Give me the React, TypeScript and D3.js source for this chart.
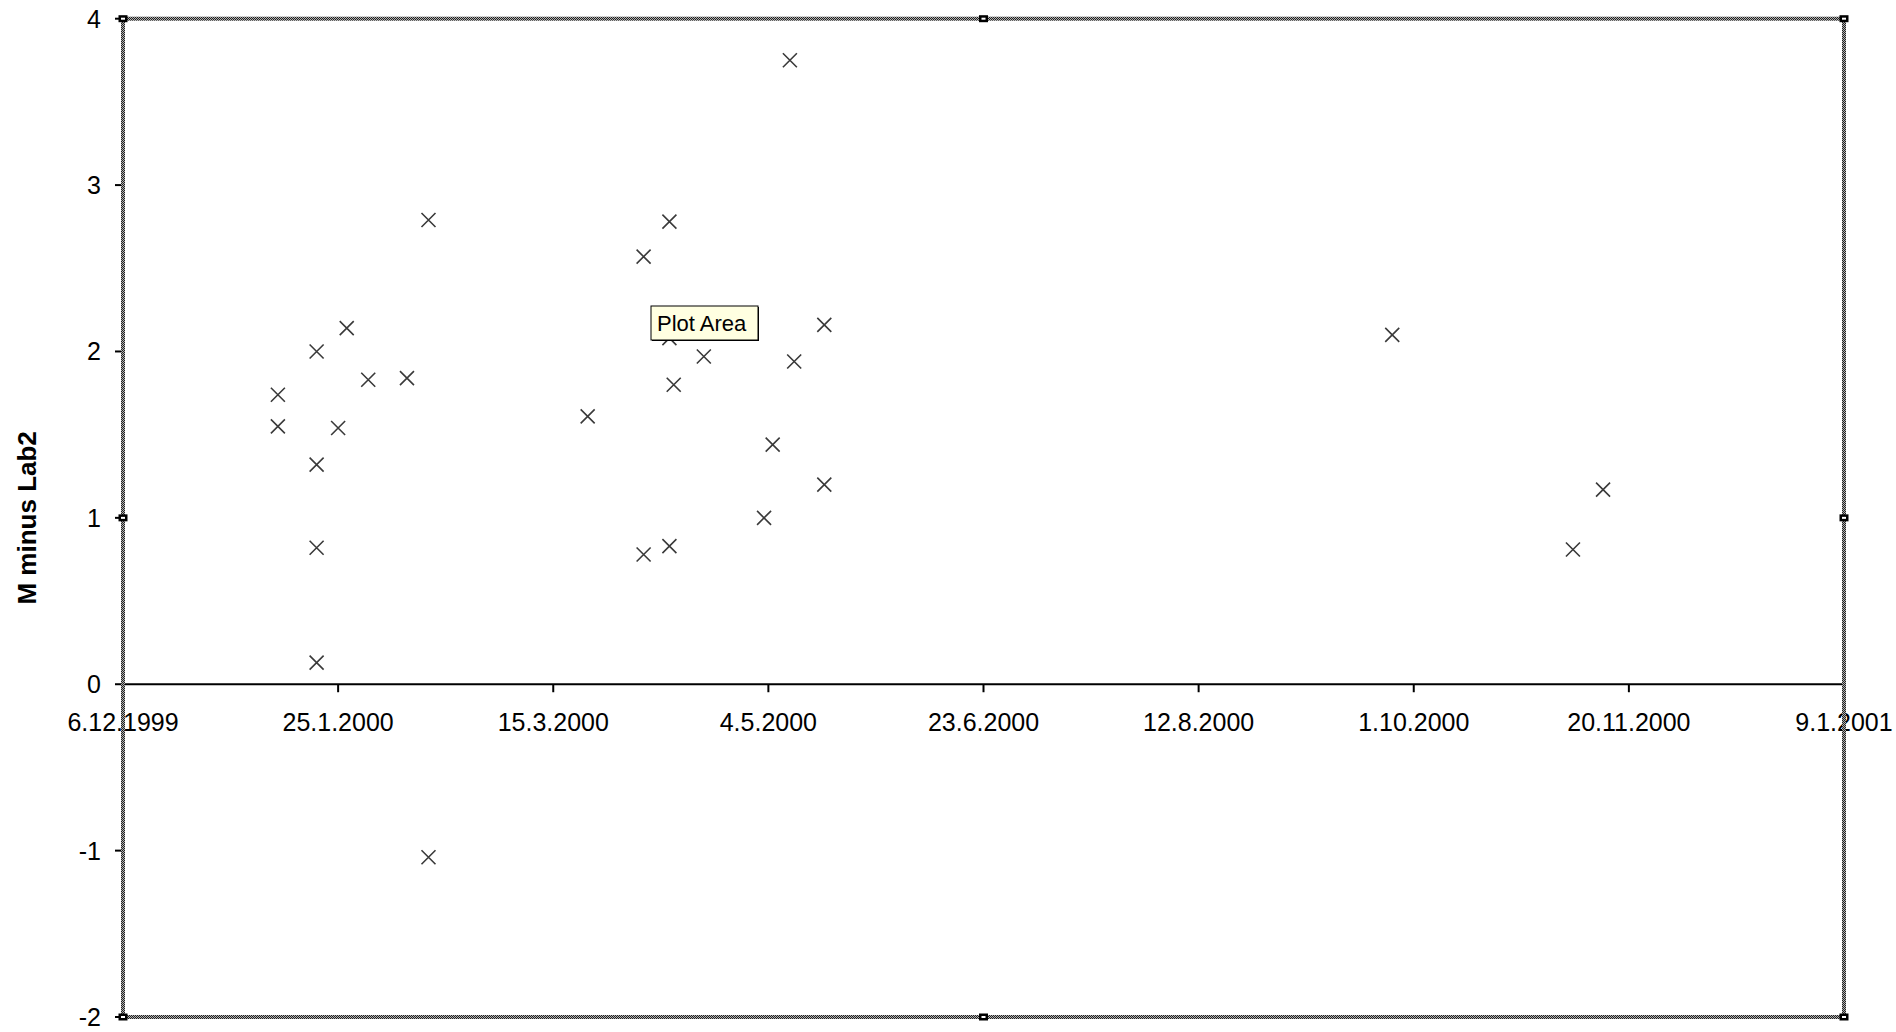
import React from "react";
import * as d3 from "d3";

const pointDates = [
  "2000-01-11", "2000-01-11", "2000-01-20", "2000-01-20", "2000-01-20", "2000-01-20",
  "2000-01-25", "2000-01-27", "2000-02-01", "2000-02-10", "2000-02-15", "2000-02-15",
  "2000-03-23", "2000-04-05", "2000-04-05", "2000-04-11", "2000-04-11", "2000-04-11",
  "2000-04-12", "2000-04-19", "2000-05-03", "2000-05-05", "2000-05-09", "2000-05-10",
  "2000-05-17", "2000-05-17", "2000-09-26", "2000-11-07", "2000-11-14",
];
const pointValues = [
  1.74, 1.55, 2.0, 1.32, 0.82, 0.13,
  1.54, 2.14, 1.83, 1.84, 2.79, -1.04,
  1.61, 2.57, 0.78, 2.78, 2.08, 0.83,
  1.8, 1.97, 1.0, 1.44, 3.75, 1.94,
  2.16, 1.2, 2.1, 0.81, 1.17,
];
const xTickLabels = [
  "6.12.1999", "25.1.2000", "15.3.2000", "4.5.2000", "23.6.2000",
  "12.8.2000", "1.10.2000", "20.11.2000", "9.1.2001",
];
const yTicks = [-2, -1, 0, 1, 2, 3, 4];
const yAxisTitle = "M minus Lab2";
const tooltipText = "Plot Area";

const W = 1896;
const H = 1032;
const plot = { left: 123, right: 1844, top: 18.7, bottom: 1017 };
const FONT = "Arial, 'Liberation Sans', sans-serif";

function parseDmy(s: string): Date {
  const [d, m, y] = s.split(".").map(Number);
  return new Date(Date.UTC(y, m - 1, d));
}
function parseIso(s: string): Date {
  const [y, m, d] = s.split("-").map(Number);
  return new Date(Date.UTC(y, m - 1, d));
}

export default function App() {
  const tickDates = xTickLabels.map(parseDmy);
  const x = d3
    .scaleUtc()
    .domain([tickDates[0], tickDates[tickDates.length - 1]])
    .range([plot.left, plot.right]);
  const y = d3.scaleLinear().domain([-2, 4]).range([plot.bottom, plot.top]);
  const y0 = y(0);
  const points = pointDates.map((d, i) => ({ x: x(parseIso(d)), y: y(pointValues[i]) }));
  const midX = (plot.left + plot.right) / 2;
  const midY = (plot.top + plot.bottom) / 2;
  const handles = [
    [plot.left, plot.top], [midX, plot.top], [plot.right, plot.top],
    [plot.left, midY], [plot.right, midY],
    [plot.left, plot.bottom], [midX, plot.bottom], [plot.right, plot.bottom],
  ];
  const s = 7;
  const tipX = 651, tipY = 306, tipW = 107, tipH = 34;

  return (
    <svg
      width={W}
      height={H}
      style={{ position: "absolute", left: 0, top: 0, background: "#fff" }}
      fontFamily={FONT}
    >
      <defs>
        <pattern id="dither" width="2" height="2" patternUnits="userSpaceOnUse">
          <rect width="2" height="2" fill="#b0b0b0" />
          <rect width="1" height="1" fill="#202020" />
          <rect x="1" y="1" width="1" height="1" fill="#202020" />
        </pattern>
      </defs>
      <rect x={0} y={0} width={W} height={H} fill="#fff" />

      {/* zero axis line */}
      <line x1={plot.left} x2={plot.right} y1={y0} y2={y0} stroke="#000" strokeWidth={2} />
      {tickDates.map((d, i) => (
        <line key={"xt" + i} x1={x(d)} x2={x(d)} y1={y0} y2={y0 + 8} stroke="#000" strokeWidth={2} />
      ))}
      {tickDates.map((d, i) => (
        <text
          key={"xl" + i}
          x={x(d)}
          y={y0 + 47}
          textAnchor="middle"
          fontSize={25}
          fill="#000"
        >
          {xTickLabels[i]}
        </text>
      ))}

      {/* y ticks */}
      {yTicks.map((t) => (
        <g key={"yt" + t}>
          <line x1={plot.left - 8} x2={plot.left} y1={y(t)} y2={y(t)} stroke="#000" strokeWidth={2} />
          <text x={101} y={y(t)} dy="0.36em" textAnchor="end" fontSize={25} fill="#000">
            {t}
          </text>
        </g>
      ))}

      {/* y axis title */}
      <text
        transform={`translate(${27},${midY}) rotate(-90)`}
        textAnchor="middle"
        dy="0.36em"
        fontSize={26}
        fontWeight="bold"
        fill="#000"
      >
        {yAxisTitle}
      </text>

      {/* selection border */}
      <rect
        x={plot.left}
        y={plot.top}
        width={plot.right - plot.left}
        height={plot.bottom - plot.top}
        fill="none"
        stroke="url(#dither)"
        strokeWidth={4}
      />
      {handles.map(([hx, hy], i) => (
        <g key={"h" + i}>
          <rect x={hx - s / 2 - 1} y={hy - s / 2} width={s + 2} height={s} fill="#000" />
          <rect x={hx - 2} y={hy - 1} width={4} height={2} fill="#fff" />
        </g>
      ))}

      {/* markers */}
      {points.map((p, i) => (
        <path
          key={"p" + i}
          d={`M${p.x - 7},${p.y - 7}L${p.x + 7},${p.y + 7}M${p.x - 7},${p.y + 7}L${p.x + 7},${p.y - 7}`}
          stroke="#3a3a3a"
          strokeWidth={1.6}
          fill="none"
        />
      ))}

      {/* tooltip */}
      <rect x={tipX + 1} y={tipY + 1} width={tipW} height={tipH} fill="#000" />
      <rect x={tipX} y={tipY} width={tipW} height={tipH} fill="#ffffe1" stroke="#000" strokeWidth={1} />
      <text x={tipX + 6} y={tipY + 25} fontSize={22} fill="#000">
        {tooltipText}
      </text>
    </svg>
  );
}
